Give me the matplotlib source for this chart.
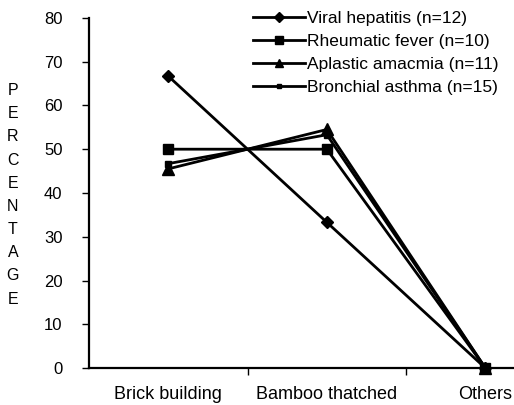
import matplotlib.pyplot as plt
from matplotlib.ticker import FixedLocator

plt.rcParams['font.family'] = ['Liberation Sans', 'DejaVu Sans']

categories = ["Brick building", "Bamboo thatched", "Others"]
viral_hepatitis = [66.7, 33.3, 0]
rheumatic_fever = [50.0, 50.0, 0]
aplastic_anaemia = [45.5, 54.5, 0]
bronchial_asthma = [46.7, 53.3, 0]

series = [
    ("Viral hepatitis (n=12)", viral_hepatitis, "D", 6),
    ("Rheumatic fever (n=10)", rheumatic_fever, "s", 7),
    ("Aplastic amacmia (n=11)", aplastic_anaemia, "^", 8),
    ("Bronchial asthma (n=15)", bronchial_asthma, "s", 4),
]

fig = plt.figure(figsize=(5.14, 4.05), dpi=100)
ax = fig.add_axes([0.173, 0.091, 0.827, 0.865])

x = list(range(len(categories)))
for label, vals, mk, ms in series:
    ax.plot(x, vals, color="black", lw=2, marker=mk, markersize=ms, label=label,
            clip_on=False, zorder=3)

ax.set_xlim(-0.5, 2.18)
ax.set_ylim(0, 80)
ax.set_yticks(range(0, 81, 10))
ax.set_xticks(x)
ax.set_xticklabels(categories, fontsize=13)
ax.tick_params(axis="x", length=0, pad=13)
ax.xaxis.set_minor_locator(FixedLocator([0.5, 1.5]))
ax.tick_params(axis="x", which="minor", length=5, width=1, direction="out")
ax.tick_params(axis="y", length=5, width=1, direction="out", labelsize=12, pad=14)

for side in ("top", "right"):
    ax.spines[side].set_visible(False)
for side in ("left", "bottom"):
    ax.spines[side].set_linewidth(1.6)

# stacked vertical axis title
fig.text(0.025, 0.519, "\n".join("PERCENTAGE"), ha="center", va="center",
         fontsize=11.5, linespacing=1.68)

ax.legend(loc="upper left", bbox_to_anchor=(0.492, 0.973),
          bbox_transform=fig.transFigure, frameon=False, fontsize=12.5,
          handlelength=3.0, handletextpad=0.1, labelspacing=0.45,
          markerscale=0.8, borderpad=0, borderaxespad=0)

fig.savefig("out.png", dpi=100)
